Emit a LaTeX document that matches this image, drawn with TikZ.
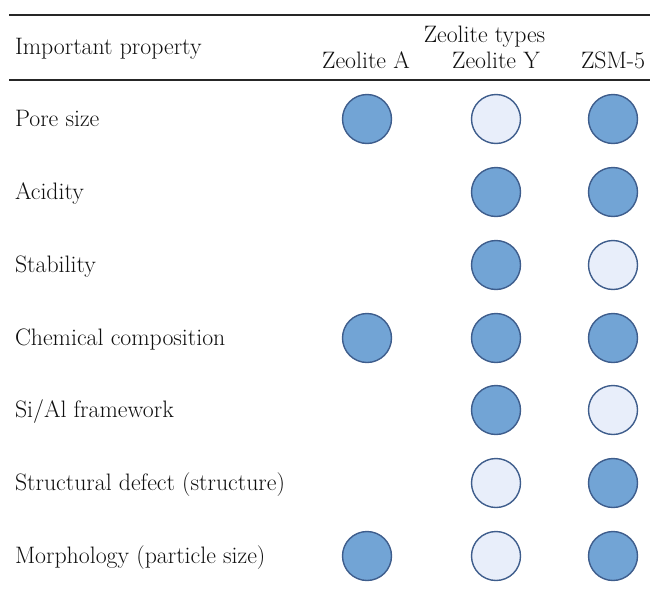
\documentclass[tikz,border=0pt]{standalone}
\usepackage{tikz}
\definecolor{darkfill}{RGB}{114,164,213}
\definecolor{lightfill}{RGB}{232,238,250}
\definecolor{rimblue}{RGB}{62,93,140}
\definecolor{txt}{RGB}{15,15,15}
\begin{document}
\begin{tikzpicture}[x=1pt,y=-1pt,
  lbl/.style={inner sep=0pt,outer sep=0pt,text=txt,font=\fontsize{23.8}{28}\selectfont},
  dot/.style={circle,draw=rimblue,line width=1.4pt,minimum size=49pt,inner sep=0pt},
  full/.style={dot,fill=darkfill},
  empty/.style={dot,fill=lightfill},
  rulerline/.style={line width=2pt,draw=black!85}]
\useasboundingbox (0,0) rectangle (650,597);
% rules
\coordinate (t1) at (9,14.5);
\coordinate (t2) at (650,14.5);
\coordinate (m1) at (9,80);
\coordinate (m2) at (650,80);
\draw[rulerline] (t1) -- (t2);
\draw[rulerline] (m1) -- (m2);
% header
\node[lbl,anchor=base west] (hprop) at (15,54) {Important property};
\node[lbl,anchor=base] (htypes) at (484.5,42) {Zeolite types};
\node[lbl,anchor=base] (hA) at (366,68) {Zeolite A};
\node[lbl,anchor=base] (hY) at (496,68) {Zeolite Y};
\node[lbl,anchor=base] (hZ) at (613,68) {ZSM-5};
% row labels
\node[lbl,anchor=base west] (r1) at (15,126) {Pore size};
\node[lbl,anchor=base west] (r2) at (15,199) {Acidity};
\node[lbl,anchor=base west] (r3) at (15,272) {Stability};
\node[lbl,anchor=base west] (r4) at (15,345) {Chemical composition};
\node[lbl,anchor=base west] (r5) at (15,417) {Si/Al framework};
\node[lbl,anchor=base west] (r6) at (15,490) {Structural defect (structure)};
\node[lbl,anchor=base west] (r7) at (15,563) {Morphology (particle size)};
% circles
\node[full]  (c1a) at (367,119) {};
\node[empty] (c1y) at (496,119) {};
\node[full]  (c1z) at (613,119) {};
\node[full]  (c2y) at (496,192) {};
\node[full]  (c2z) at (613,192) {};
\node[full]  (c3y) at (496,265) {};
\node[empty] (c3z) at (613,265) {};
\node[full]  (c4a) at (367,338) {};
\node[full]  (c4y) at (496,338) {};
\node[full]  (c4z) at (613,338) {};
\node[full]  (c5y) at (496,410) {};
\node[empty] (c5z) at (613,410) {};
\node[empty] (c6y) at (496,483) {};
\node[full]  (c6z) at (613,483) {};
\node[full]  (c7a) at (367,556) {};
\node[empty] (c7y) at (496,556) {};
\node[full]  (c7z) at (613,556) {};
\end{tikzpicture}
\end{document}
